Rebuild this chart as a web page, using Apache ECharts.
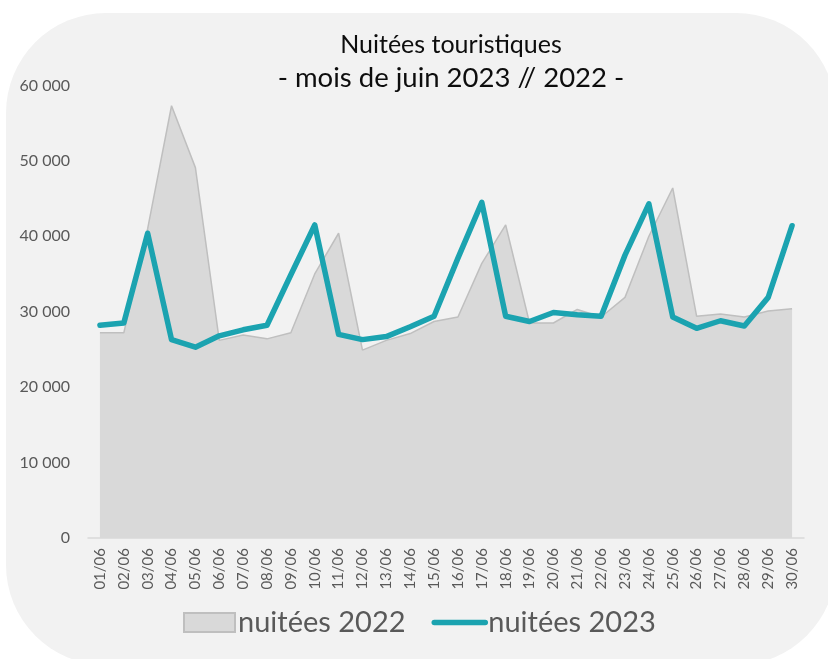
<!DOCTYPE html>
<html>
<head>
<meta charset="utf-8">
<script src="https://cdn.jsdelivr.net/npm/echarts@6/dist/echarts.min.js"></script>
<style>
html,body{margin:0;padding:0;background:#ffffff;}
#chart{width:828px;height:659px;}
</style>
</head>
<body>
<div id="chart"></div>
<script>
var categories = ['01/06','02/06','03/06','04/06','05/06','06/06','07/06','08/06','09/06','10/06',
  '11/06','12/06','13/06','14/06','15/06','16/06','17/06','18/06','19/06','20/06',
  '21/06','22/06','23/06','24/06','25/06','26/06','27/06','28/06','29/06','30/06'];
var nuitees2022 = [27200,27200,41000,57300,49100,26200,26900,26400,27200,35000,
  40400,24900,26200,27100,28700,29300,36400,41500,28500,28500,
  30300,29300,31900,40000,46400,29400,29700,29300,30100,30400];
var nuitees2023 = [28200,28500,40400,26300,25300,26800,27600,28200,34900,41500,
  27000,26300,26700,28000,29400,37100,44500,29400,28700,29900,
  29600,29400,37500,44300,29300,27800,28800,28100,31900,41400];
var yTicks = {min:0, max:60000, interval:10000};
var titleLines = ['Nuitées touristiques', '- mois de juin 2023 // 2022 -'];
var seriesNames = ['nuitées 2022', 'nuitées 2023'];

function fmt(v){ return String(v).replace(/\B(?=(\d{3})+(?!\d))/g, ' '); }

var chart = echarts.init(document.getElementById('chart'), null, {renderer:'canvas'});
chart.setOption({
  backgroundColor: '#ffffff',
  animation: false,
  graphic: [
    {type:'rect', z:-10, silent:true, shape:{x:6, y:13, width:830, height:652, r:100}, style:{fill:'#f2f2f2'}},
    {type:'text', z:10, style:{x:451, y:45, text:titleLines[0], textAlign:'center', textVerticalAlign:'middle', fill:'#0d0d0d', font:'25px Lato'}},
    {type:'text', z:10, style:{x:451, y:78, text:titleLines[1], textAlign:'center', textVerticalAlign:'middle', fill:'#0d0d0d', font:'27.5px Lato'}}
  ],
  grid: {left:88, right:24, top:85.4, bottom:121, containLabel:false},
  legend: {
    data: [
      {name:seriesNames[0], icon:'rect'},
      {name:seriesNames[1], itemStyle:{opacity:0}, lineStyle:{width:5.5, cap:'round', color:'#1ba3b0'}}
    ],
    left: 178, top: 603,
    itemWidth: 51, itemHeight: 19, itemGap: 26,
    textStyle: {fontFamily:'Lato', fontSize:29, color:'#595959', padding:[0,0,0,-2]}
  },
  xAxis: {
    type:'category', data:categories, boundaryGap:true,
    axisLine:{show:true, lineStyle:{color:'#d9d9d9', width:1.5}},
    axisTick:{show:false},
    axisLabel:{rotate:90, interval:0, margin:10, fontFamily:'Lato', fontSize:15, color:'#595959'},
    splitLine:{show:false}
  },
  yAxis: {
    type:'value', min:yTicks.min, max:yTicks.max, interval:yTicks.interval,
    axisLine:{show:false}, axisTick:{show:false}, splitLine:{show:false},
    axisLabel:{margin:18, fontFamily:'Lato', fontSize:16, color:'#595959', formatter:fmt}
  },
  series: [
    {name:seriesNames[0], type:'line', data:nuitees2022, symbol:'none', smooth:false,
     lineStyle:{color:'#bfbfbf', width:1.5},
     itemStyle:{color:'#d9d9d9', borderColor:'#bfbfbf', borderWidth:1.5},
     areaStyle:{color:'#d9d9d9', opacity:1}, z:2},
    {name:seriesNames[1], type:'line', data:nuitees2023, symbol:'none', smooth:false,
     lineStyle:{color:'#1ba3b0', width:5.5, cap:'round', join:'round'},
     itemStyle:{color:'#1ba3b0'}, z:3}
  ]
});
</script>
</body>
</html>
